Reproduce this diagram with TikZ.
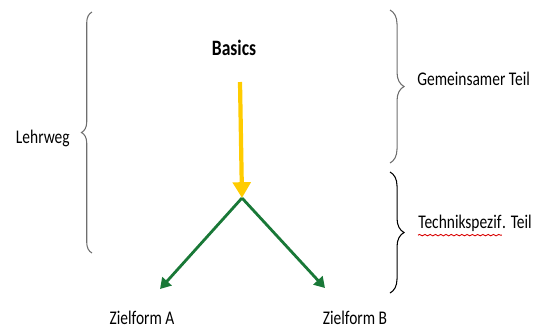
\documentclass[tikz,border=0pt]{standalone}
\usepackage{fontspec}
\setmainfont{Carlito}[FakeStretch=0.8]
\usetikzlibrary{positioning}
\usetikzlibrary{arrows.meta}
\usetikzlibrary{decorations.pathreplacing}
\usetikzlibrary{decorations.pathmorphing}
\definecolor{basicgold}{RGB}{255,204,0}
\definecolor{zielgreen}{RGB}{25,120,55}
\definecolor{bracegray}{RGB}{110,110,110}
\tikzset{lbl/.style = {font=\fontsize{11}{13}\selectfont, inner sep=0}}
\tikzset{brc/.style = {decorate, decoration={brace, amplitude=#1}, line width=0.6pt},
         brc/.default = 8pt}
\tikzset{goldarrow/.style = {basicgold, line width=2.4pt, -{Triangle[length=9pt, width=10pt]}}}
\tikzset{greenarrow/.style = {zielgreen, line width=1.6pt, -{Triangle[length=6pt, width=7pt]}}}

\begin{document}
\begin{tikzpicture}[x=0.02cm, y=-0.02cm]
    \useasboundingbox (0,0) rectangle (544,329);
    \coordinate (top) at (240,82);
    \coordinate (fork) at (242,198);
    \coordinate (endA) at (160,289);
    \coordinate (endB) at (325,288);
    \node[lbl, font=\fontsize{12.5}{14}\selectfont\bfseries] (basics) at (234,48) {Basics};
    \node[lbl] (zielA) at (142,318) {Zielform A};
    \node[lbl] (zielB) at (355,318) {Zielform B};
    \node[lbl, anchor=east] (lehrweg) at (70,138) {Lehrweg};
    \node[lbl, anchor=west] (gemein) at (417,79) {Gemeinsamer Teil};
    \node[lbl, anchor=west] (techword) at (418,223) {Technikspezif};
    \node[lbl, anchor=base west] (techrest) at (techword.base east) {. Teil};

    \draw[goldarrow] (top) -- (fork);
    \draw[greenarrow] (fork) -- (endA);
    \draw[greenarrow] (fork) -- (endB);

    \draw[brc=6pt, bracegray] (92,253) -- (92,12);
    \draw[brc, bracegray] (390,10) -- (390,163);
    \draw[brc] (390,172) -- (390,293);

    % spell check line
    \draw[red!85!black, line width=0.5pt, decorate,
          decoration={snake, amplitude=0.4pt, segment length=3pt}]
        ([yshift=-2pt]techword.south west) -- ([yshift=-2pt]techword.south east);
\end{tikzpicture}
\end{document}
